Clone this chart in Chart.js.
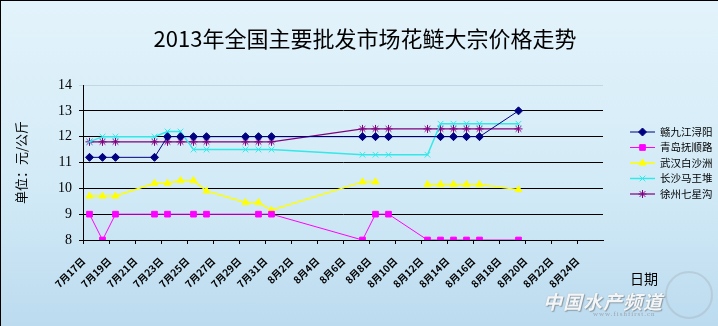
<!DOCTYPE html>
<html>
<head>
<meta charset="utf-8">
<script src="https://cdn.jsdelivr.net/npm/chart.js@4/dist/chart.umd.min.js"></script>
<style>
  html, body { margin: 0; padding: 0; }
  #wrap {
    position: relative; width: 718px; height: 326px; overflow: hidden;
    background: linear-gradient(180deg, #e3f3fb 0%, #d3ebf7 55%, #bcdbef 100%);
    box-sizing: border-box; border-top: 1px solid #000; border-left: 1px solid #000;
  }
  canvas { position: absolute; left: 0; top: 0; }
  .mark { position: absolute; font-family: "Noto Sans CJK SC", sans-serif; pointer-events: none; }
  #brand { left: 542px; top: 286px; font-size: 19px; font-weight: bold; font-style: italic;
    color: rgba(255,255,255,0.9); letter-spacing: 1px;
    text-shadow: 0 0 1px #8a9aa4, 1px 1px 1px rgba(120,135,145,0.8); }
  #site { left: 592px; top: 309px; font-size: 7px; color: rgba(150,160,168,0.9); font-family: "Liberation Serif", serif; letter-spacing: 1px; }
  #globe { left: 664px; top: 270px; width: 48px; height: 48px; border-radius: 50%;
    border: 2px solid rgba(160,170,178,0.35); box-sizing: border-box; }
</style>
</head>
<body>
<div id="wrap">
  <canvas id="c" width="718" height="326"></canvas>
  <div id="globe" class="mark"></div>
  <div id="brand" class="mark">中国水产频道</div>
  <div id="site" class="mark">www.fishfirst.cn</div>
</div>
<script>
// Calendar days on the date axis (one slot per day)
const axisDays = [
  '7月17日','7月18日','7月19日','7月20日','7月21日','7月22日','7月23日','7月24日',
  '7月25日','7月26日','7月27日','7月28日','7月29日','7月30日','7月31日',
  '8月1日','8月2日','8月3日','8月4日','8月5日','8月6日','8月7日','8月8日',
  '8月9日','8月10日','8月11日','8月12日','8月13日','8月14日','8月15日','8月16日',
  '8月17日','8月18日','8月19日','8月20日','8月21日','8月22日','8月23日','8月24日','8月25日'
];

// Trading days that carry quotes
const quoteDays = [
  '7月17日','7月18日','7月19日','7月22日','7月23日','7月24日','7月25日','7月26日',
  '7月29日','7月30日','7月31日','8月7日','8月8日','8月9日','8月12日','8月13日',
  '8月14日','8月15日','8月16日','8月19日'
];

// Prices, 元/公斤 (null = no quote that day)
const ganJiujiang = [11.2, 11.2, 11.2, 11.2, 12, 12, 12, 12, 12, 12, 12, 12, 12, 12, null, 12, 12, 12, 12, 13];
const qingdaoFushun = [9, 8, 9, 9, 9, null, 9, 9, null, 9, 9, 8, 9, 9, 8, 8, 8, 8, 8, 8];
const wuhanBaishazhou = [9.7, 9.7, 9.7, 10.2, 10.2, 10.3, 10.3, 9.9, 9.45, 9.45, 9.15, 10.25, 10.25, null, 10.15, 10.15, 10.15, 10.15, 10.15, 9.95];
const changshaMawangdui = [11.8, 12, 12, 12, 12.2, 12.2, 11.5, 11.5, 11.5, 11.5, 11.5, 11.3, 11.3, 11.3, 11.3, 12.5, 12.5, 12.5, 12.5, 12.5];
const xuzhouQixinggou = [11.8, 11.8, 11.8, 11.8, 11.8, 11.8, 11.8, 11.8, 11.8, 11.8, 11.8, 12.3, 12.3, 12.3, 12.3, 12.3, 12.3, 12.3, 12.3, 12.3];

const seriesNames = ['赣九江浔阳', '青岛抚顺路', '武汉白沙洲', '长沙马王堆', '徐州七星沟'];
const yTicks = [8, 9, 10, 11, 12, 13, 14];

const chartTitle = '2013年全国主要批发市场花鲢大宗价格走势';
const yTitle = '单位：元/公斤';
const xTitle = '日期';

const toPoints = vals => quoteDays.map((d, i) => ({ x: d, y: vals[i] }));

function series(label, vals, color, style, radius, width, span) {
  return {
    label, data: toPoints(vals),
    borderColor: color, backgroundColor: color,
    pointBorderColor: color, pointBackgroundColor: color,
    borderWidth: width, pointStyle: style, pointRadius: radius,
    pointBorderWidth: 1, tension: 0, spanGaps: span
  };
}

const datasets = [
  series(seriesNames[0], ganJiujiang, '#000080', 'rectRot', 4, 1, true),
  series(seriesNames[1], qingdaoFushun, '#FF00FF', 'rect', 4, 1, true),
  series(seriesNames[2], wuhanBaishazhou, '#FFFF00', 'triangle', 4, 1.5, false),
  series(seriesNames[3], changshaMawangdui, '#33E8E8', 'crossRot', 4, 1.5, true),
  series(seriesNames[4], xuzhouQixinggou, '#800080', 'star', 4, 1.2, true)
];

// Title, side legend and axis caption drawn on top of the plot
const decorations = {
  id: 'decorations',
  afterDraw(chart) {
    const ctx = chart.ctx;
    const area = chart.chartArea;
    ctx.save();
    ctx.fillStyle = '#000';
    ctx.textAlign = 'center';
    ctx.textBaseline = 'middle';
    ctx.font = '22px "Noto Sans CJK SC"';
    ctx.fillText(chartTitle, 364, 38);

    const lx = area.right + 27, ly = 131, step = 15.5;
    chart.data.datasets.forEach((ds, i) => {
      const y = ly + i * step;
      ctx.strokeStyle = ds.borderColor;
      ctx.lineWidth = ds.borderWidth;
      ctx.beginPath();
      ctx.moveTo(lx, y); ctx.lineTo(lx + 25, y);
      ctx.stroke();
      ctx.fillStyle = ds.pointBackgroundColor;
      ctx.strokeStyle = ds.pointBorderColor;
      ctx.lineWidth = 1;
      Chart.helpers.drawPoint(ctx, { pointStyle: ds.pointStyle, radius: ds.pointRadius, rotation: 0, borderWidth: 1 }, lx + 12.5, y);
      ctx.fillStyle = '#000';
      ctx.textAlign = 'left';
      ctx.font = '10.5px "Noto Sans CJK SC"';
      ctx.fillText(ds.label, lx + 30, y);
    });

    ctx.textAlign = 'center';
    ctx.font = '14px "Noto Sans CJK SC"';
    ctx.fillText(xTitle, area.right + 41, 278);
    ctx.restore();
  }
};

new Chart(document.getElementById('c'), {
  type: 'line',
  data: { labels: axisDays, datasets },
  options: {
    responsive: false, animation: false, devicePixelRatio: 1,
    layout: { padding: { top: 84, right: 116, left: 0, bottom: 0 } },
    plugins: { legend: { display: false }, title: { display: false }, tooltip: { enabled: false } },
    scales: {
      x: {
        type: 'category', offset: true,
        afterFit: s => { s.height = 87; },
        grid: {
          offset: true, drawOnChartArea: false, tickLength: 4,
          color: c => (c.index % 2 === 0 ? '#000' : 'rgba(0,0,0,0)')
        },
        border: { display: true, color: '#000', width: 1 },
        ticks: {
          autoSkip: false, minRotation: 45, maxRotation: 45, labelOffset: -6, padding: 11,
          color: '#000', font: { family: '"Noto Sans CJK SC"', size: 10, weight: 'bold' },
          callback: (v, i) => (i % 2 === 0 ? axisDays[i] : '')
        }
      },
      y: {
        min: yTicks[0], max: yTicks[yTicks.length - 1],
        afterFit: s => { s.width = 82; },
        afterBuildTicks: s => { s.ticks = yTicks.map(v => ({ value: v })); },
        grid: {
          color: c => (c.tick && c.tick.value === 14 ? 'rgba(150,170,185,0.35)' : '#000'),
          tickLength: 4, lineWidth: 1
        },
        border: { display: true, color: '#000', width: 1 },
        ticks: { color: '#000', padding: 7, font: { family: '"Liberation Serif"', size: 14 } },
        title: {
          display: true, text: yTitle, color: '#000',
          font: { family: '"Noto Sans CJK SC"', size: 13 }, padding: { top: 12, bottom: 0 }
        }
      }
    }
  },
  plugins: [decorations]
});
</script>
</body>
</html>
